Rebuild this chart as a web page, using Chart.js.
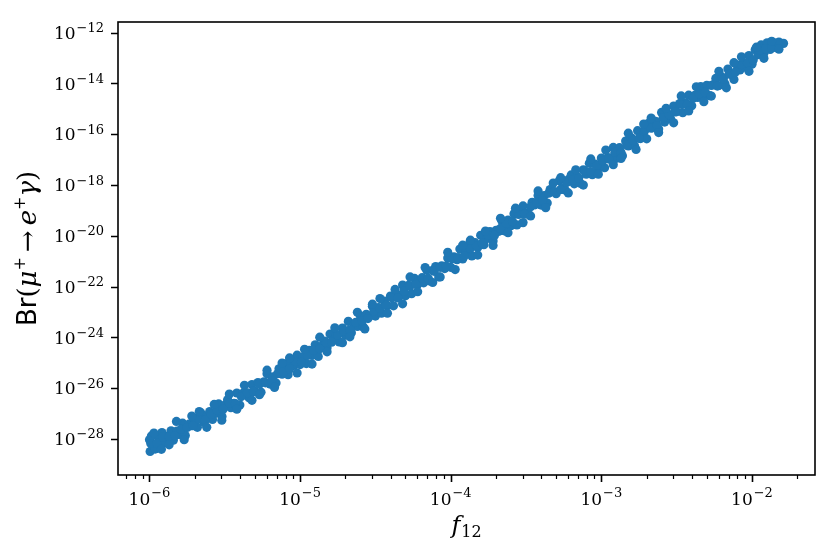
<!DOCTYPE html>
<html><head><meta charset="utf-8">
<script src="https://cdn.jsdelivr.net/npm/chart.js@4.4.0/dist/chart.umd.min.js"></script>
<style>html,body{margin:0;padding:0;background:#fff;}canvas{display:block;}</style>
</head><body>
<canvas id="c" width="838" height="558"></canvas>
<script>
// ---- data (f12, Br) ----
const f12Values = [
 1.00e-6,1.01e-6,1.03e-6,1.05e-6,1.09e-6,1.15e-6,1.21e-6,1.26e-6,1.31e-6,1.39e-6,1.44e-6,1.52e-6,
 1.58e-6,1.66e-6,1.73e-6,1.83e-6,1.90e-6,2.00e-6,2.08e-6,2.19e-6,2.30e-6,2.40e-6,
 2.51e-6,2.62e-6,2.76e-6,2.88e-6,3.03e-6,3.16e-6,3.30e-6,3.47e-6,3.64e-6,3.80e-6,
 3.98e-6,4.17e-6,4.37e-6,4.58e-6,4.79e-6,5.01e-6,5.25e-6,5.50e-6,5.75e-6,6.03e-6,
 6.31e-6,6.61e-6,6.92e-6,7.24e-6,7.59e-6,7.94e-6,8.32e-6,8.71e-6,9.12e-6,9.55e-6,
 1.00e-5,1.05e-5,1.10e-5,1.15e-5,1.20e-5,1.26e-5,1.32e-5,1.38e-5,1.45e-5,1.51e-5,
 1.58e-5,1.66e-5,1.74e-5,1.82e-5,1.91e-5,2.00e-5,2.09e-5,2.19e-5,2.29e-5,2.40e-5,
 2.51e-5,2.63e-5,2.75e-5,2.88e-5,3.02e-5,3.16e-5,3.31e-5,3.47e-5,3.63e-5,3.80e-5,
 3.98e-5,4.17e-5,4.37e-5,4.57e-5,4.79e-5,5.01e-5,5.25e-5,5.50e-5,5.75e-5,6.03e-5,
 6.31e-5,6.61e-5,6.92e-5,7.24e-5,7.59e-5,7.94e-5,8.32e-5,8.71e-5,9.12e-5,9.55e-5,
 1.00e-4,1.05e-4,1.10e-4,1.15e-4,1.20e-4,1.26e-4,1.32e-4,1.38e-4,1.45e-4,1.51e-4,
 1.58e-4,1.66e-4,1.74e-4,1.82e-4,1.91e-4,2.00e-4,2.09e-4,2.19e-4,2.29e-4,2.40e-4,
 2.51e-4,2.63e-4,2.75e-4,2.88e-4,3.02e-4,3.16e-4,3.31e-4,3.47e-4,3.63e-4,3.80e-4,
 3.98e-4,4.17e-4,4.37e-4,4.57e-4,4.79e-4,5.01e-4,5.25e-4,5.50e-4,5.75e-4,6.03e-4,
 6.31e-4,6.61e-4,6.92e-4,7.24e-4,7.59e-4,7.94e-4,8.32e-4,8.71e-4,9.12e-4,9.55e-4,
 1.00e-3,1.05e-3,1.10e-3,1.15e-3,1.20e-3,1.26e-3,1.32e-3,1.38e-3,1.45e-3,1.51e-3,
 1.58e-3,1.66e-3,1.74e-3,1.82e-3,1.91e-3,2.00e-3,2.09e-3,2.19e-3,2.29e-3,2.40e-3,
 2.51e-3,2.63e-3,2.75e-3,2.88e-3,3.02e-3,3.16e-3,3.31e-3,3.47e-3,3.63e-3,3.80e-3,
 3.98e-3,4.17e-3,4.37e-3,4.57e-3,4.79e-3,5.01e-3,5.25e-3,5.50e-3,5.75e-3,6.03e-3,
 6.31e-3,6.61e-3,6.92e-3,7.24e-3,7.59e-3,7.94e-3,8.32e-3,8.71e-3,9.12e-3,9.55e-3,
 1.00e-2,1.05e-2,1.10e-2,1.15e-2,1.20e-2,1.26e-2,1.32e-2,1.38e-2,1.45e-2,1.51e-2,1.62e-2,
 1.02e-6,1.12e-6,1.23e-6,1.35e-6,1.48e-6,1.62e-6,1.78e-6,1.95e-6,2.14e-6,2.34e-6,
 2.57e-6,2.82e-6,3.09e-6,3.39e-6,3.72e-6,4.07e-6,4.47e-6,4.90e-6,5.37e-6,5.89e-6,
 6.46e-6,7.08e-6,7.76e-6,8.51e-6,9.33e-6,1.02e-5,1.12e-5,1.23e-5,1.35e-5,1.48e-5,
 1.62e-5,1.78e-5,1.95e-5,2.14e-5,2.34e-5,2.57e-5,2.82e-5,3.09e-5,3.39e-5,3.72e-5,
 4.07e-5,4.47e-5,4.90e-5,5.37e-5,5.89e-5,6.46e-5,7.08e-5,7.76e-5,8.51e-5,9.33e-5,
 1.02e-4,1.12e-4,1.23e-4,1.35e-4,1.48e-4,1.62e-4,1.78e-4,1.95e-4,2.14e-4,2.34e-4,
 2.57e-4,2.82e-4,3.09e-4,3.39e-4,3.72e-4,4.07e-4,4.47e-4,4.90e-4,5.37e-4,5.89e-4,
 6.46e-4,7.08e-4,7.76e-4,8.51e-4,9.33e-4,1.02e-3,1.12e-3,1.23e-3,1.35e-3,1.48e-3,
 1.62e-3,1.78e-3,1.95e-3,2.14e-3,2.34e-3,2.57e-3,2.82e-3,3.09e-3,3.39e-3,3.72e-3,
 4.07e-3,4.47e-3,4.90e-3,5.37e-3,5.89e-3,6.46e-3,7.08e-3,7.76e-3,8.51e-3,9.33e-3,
 1.02e-2,1.12e-2,1.23e-2,1.35e-2,1.48e-2,
 1.07e-6,1.20e-6,1.35e-6,1.51e-6,1.70e-6,1.91e-6,2.14e-6,2.40e-6,2.69e-6,3.02e-6,
 3.39e-6,3.80e-6,4.27e-6,4.79e-6,5.37e-6,6.03e-6,6.76e-6,7.59e-6,8.51e-6,9.55e-6,
 1.07e-5,1.20e-5,1.35e-5,1.51e-5,1.70e-5,1.91e-5,2.14e-5,2.40e-5,2.69e-5,3.02e-5,
 3.39e-5,3.80e-5,4.27e-5,4.79e-5,5.37e-5,6.03e-5,6.76e-5,7.59e-5,8.51e-5,9.55e-5,
 1.07e-4,1.20e-4,1.35e-4,1.51e-4,1.70e-4,1.91e-4,2.14e-4,2.40e-4,2.69e-4,3.02e-4,
 3.39e-4,3.80e-4,4.27e-4,4.79e-4,5.37e-4,6.03e-4,6.76e-4,7.59e-4,8.51e-4,9.55e-4,
 1.07e-3,1.20e-3,1.35e-3,1.51e-3,1.70e-3,1.91e-3,2.14e-3,2.40e-3,2.69e-3,3.02e-3,
 3.39e-3,3.80e-3,4.27e-3,4.79e-3,5.37e-3,6.03e-3,6.76e-3,7.59e-3,8.51e-3,9.55e-3,
 1.07e-2,1.20e-2,1.35e-2,1.51e-2
];
const brValues = [
 9.33e-29,3.20e-29,1.30e-28,5.37e-29,3.98e-29,1.10e-28,1.78e-28,7.08e-29,1.26e-28,2.09e-28,8.91e-29,2.04e-28,
 1.51e-28,4.17e-28,1.38e-28,3.80e-28,3.31e-28,6.31e-28,2.88e-28,1.07e-27,4.47e-28,7.94e-28,
 1.20e-27,5.89e-28,1.02e-27,2.40e-27,7.59e-28,2.14e-27,3.47e-27,1.70e-27,2.51e-27,6.46e-27,
 2.19e-27,6.30e-27,5.62e-27,4.17e-27,1.38e-26,7.41e-27,1.66e-26,6.92e-27,1.78e-26,3.72e-26,
 1.45e-26,2.82e-26,1.58e-26,5.75e-26,3.55e-26,9.12e-26,3.40e-26,9.33e-26,7.94e-26,2.00e-25,
 8.51e-26,1.70e-25,9.33e-26,3.09e-25,1.95e-25,5.13e-25,1.78e-25,4.47e-25,7.08e-25,3.89e-25,
 1.35e-24,7.76e-25,1.32e-24,6.61e-25,2.34e-24,1.23e-24,4.27e-24,1.51e-24,3.31e-24,2.69e-24,
 7.08e-24,2.57e-24,8.13e-24,6.76e-24,1.70e-23,6.90e-24,1.48e-23,8.91e-24,2.69e-23,1.78e-23,
 4.27e-23,1.75e-23,4.68e-23,4.57e-23,1.15e-22,4.37e-23,1.12e-22,5.25e-23,2.09e-22,1.20e-22,
 1.82e-22,1.41e-22,4.47e-22,1.66e-22,4.37e-22,6.17e-22,2.40e-22,6.61e-22,5.13e-22,1.35e-21,
 5.75e-22,1.48e-21,1.15e-21,3.02e-21,1.23e-21,2.40e-21,4.57e-21,1.62e-21,5.37e-21,3.47e-21,
 1.05e-20,4.50e-21,7.76e-21,1.48e-20,6.31e-21,1.66e-20,1.51e-20,3.72e-20,1.55e-20,4.17e-20,
 2.51e-20,7.41e-20,2.69e-20,7.59e-20,1.51e-19,7.76e-20,6.76e-20,2.09e-19,1.66e-19,3.89e-19,
 1.62e-19,3.80e-19,1.95e-19,6.61e-19,5.50e-19,4.57e-19,1.48e-18,7.59e-19,6.31e-19,1.62e-18,
 2.51e-18,1.12e-18,2.19e-18,1.17e-18,3.98e-18,2.69e-18,7.24e-18,2.57e-18,6.61e-18,4.68e-18,
 1.15e-17,4.79e-18,1.20e-17,1.18e-17,3.02e-17,1.13e-17,2.95e-17,1.41e-17,5.37e-17,3.47e-17,
 7.24e-17,3.55e-17,1.38e-16,6.76e-17,1.15e-16,6.60e-17,2.88e-16,1.82e-16,3.24e-16,1.62e-16,
 7.24e-16,3.02e-16,6.31e-16,4.07e-16,1.29e-15,7.76e-16,1.62e-15,7.08e-16,1.74e-15,3.47e-15,
 1.32e-15,3.39e-15,2.82e-15,7.59e-15,3.02e-15,8.51e-15,3.30e-15,8.91e-15,1.58e-14,8.32e-15,
 1.82e-14,9.77e-15,3.72e-14,2.29e-14,1.45e-14,5.37e-14,3.39e-14,6.17e-14,4.37e-14,1.26e-13,
 5.75e-14,2.14e-13,1.38e-13,3.31e-13,1.55e-13,3.98e-13,2.19e-13,4.17e-13,2.57e-13,4.27e-13,3.80e-13,
 6.61e-29,6.76e-29,1.20e-28,1.23e-28,1.35e-28,2.40e-28,2.82e-28,3.31e-28,6.17e-28,5.50e-28,
 9.33e-28,1.38e-27,1.51e-27,2.63e-27,2.45e-27,4.68e-27,6.61e-27,7.41e-27,1.45e-26,1.62e-26,
 1.95e-26,3.72e-26,4.57e-26,5.75e-26,1.12e-25,1.07e-25,1.95e-25,3.09e-25,3.55e-25,6.61e-25,
 6.46e-25,1.23e-24,1.78e-24,2.00e-24,3.89e-24,4.47e-24,5.50e-24,1.10e-23,1.41e-23,1.82e-23,
 3.63e-23,3.55e-23,6.61e-23,1.05e-22,1.20e-22,2.24e-22,2.14e-22,3.98e-22,5.75e-22,6.46e-22,
 1.26e-21,1.38e-21,1.62e-21,3.16e-21,4.07e-21,5.13e-21,1.05e-20,1.04e-20,1.95e-20,3.09e-20,
 3.63e-20,6.92e-20,7.08e-20,1.41e-19,2.09e-19,2.45e-19,4.79e-19,5.50e-19,6.61e-19,1.26e-18,
 1.55e-18,1.91e-18,3.63e-18,3.39e-18,5.89e-18,9.12e-18,1.05e-17,1.95e-17,1.90e-17,3.80e-17,
 5.75e-17,6.92e-17,1.48e-16,1.74e-16,2.19e-16,4.47e-16,5.89e-16,7.59e-16,1.51e-15,1.45e-15,
 2.63e-15,3.98e-15,4.47e-15,8.32e-15,7.94e-15,1.55e-14,2.34e-14,2.82e-14,5.62e-14,6.61e-14,
 8.51e-14,2.00e-13,2.34e-13,2.57e-13,3.89e-13,
 1.70e-28,3.89e-29,5.89e-29,4.90e-28,9.33e-29,7.94e-28,1.20e-27,2.88e-28,2.29e-27,5.50e-28,
 5.89e-27,1.48e-27,1.29e-26,3.31e-27,5.50e-27,5.13e-26,1.07e-26,9.77e-26,1.55e-25,3.98e-26,
 3.39e-25,8.91e-26,1.02e-24,2.69e-25,2.40e-24,6.17e-25,1.05e-24,9.77e-24,2.14e-24,2.04e-23,
 3.39e-23,8.91e-24,7.76e-23,2.09e-23,2.40e-22,6.31e-23,5.62e-22,1.45e-22,2.40e-22,2.24e-21,
 4.68e-22,4.27e-21,6.76e-21,1.74e-21,1.55e-20,4.17e-21,4.90e-20,1.32e-20,1.23e-19,3.31e-20,
 6.03e-20,5.89e-19,1.29e-19,1.20e-18,1.95e-18,4.90e-19,3.98e-18,1.00e-18,1.07e-17,2.69e-18,
 2.40e-17,6.31e-18,1.12e-17,1.10e-16,2.51e-17,2.51e-16,4.37e-16,1.17e-16,1.05e-15,2.82e-16,
 3.24e-15,8.32e-16,7.41e-15,1.91e-15,3.20e-15,3.02e-14,6.76e-15,6.61e-14,1.12e-13,3.02e-14,
 2.69e-13,9.77e-14,4.57e-13,2.24e-13
];
const xMajorTicks = [1e-6, 1e-5, 1e-4, 1e-3, 1e-2];
const xTickExponents = ['−6', '−5', '−4', '−3', '−2'];
const xMinorTicks = [7e-7,8e-7,9e-7,
 2e-6,3e-6,4e-6,5e-6,6e-6,7e-6,8e-6,9e-6,
 2e-5,3e-5,4e-5,5e-5,6e-5,7e-5,8e-5,9e-5,
 2e-4,3e-4,4e-4,5e-4,6e-4,7e-4,8e-4,9e-4,
 2e-3,3e-3,4e-3,5e-3,6e-3,7e-3,8e-3,9e-3,
 2e-2];
const yMajorTicks = [1e-28, 1e-26, 1e-24, 1e-22, 1e-20, 1e-18, 1e-16, 1e-14, 1e-12];
const yTickExponents = ['−28', '−26', '−24', '−22', '−20', '−18', '−16', '−14', '−12'];

const SERIF = '"DejaVu Serif", serif';
const points = f12Values.map((v, i) => ({ x: v, y: brValues[i] }));

function drawPow(ctx, exp, x, baseline, align, bSize, eSize, raise) {
  ctx.font = bSize + 'px ' + SERIF; const wb = ctx.measureText('10').width;
  ctx.font = eSize + 'px ' + SERIF; const we = ctx.measureText(exp).width;
  const gap = 1, total = wb + gap + we;
  const x0 = align === 'right' ? x - total : x - total / 2;
  ctx.textAlign = 'left'; ctx.textBaseline = 'alphabetic'; ctx.fillStyle = '#000';
  ctx.font = bSize + 'px ' + SERIF; ctx.fillText('10', x0, baseline);
  ctx.font = eSize + 'px ' + SERIF; ctx.fillText(exp, x0 + wb + gap, baseline - raise);
}

function drawSegments(ctx, segs, startX, baseline) {
  let x = startX;
  segs.forEach(s => {
    ctx.font = s.f;
    x += (s.padL || 0);
    ctx.fillText(s.t, x, baseline + (s.dy || 0));
    x += ctx.measureText(s.t).width + (s.padR || 0);
  });
}
function segWidth(ctx, segs) {
  let w = 0;
  segs.forEach(s => { ctx.font = s.f; w += ctx.measureText(s.t).width + (s.padL || 0) + (s.padR || 0); });
  return w;
}

const mplAxes = {
  id: 'mplAxes',
  afterDraw(chart) {
    const { ctx, chartArea: a, scales: { x, y } } = chart;
    ctx.save();
    ctx.strokeStyle = '#000';
    ctx.lineWidth = 1.6;
    ctx.beginPath();
    xMajorTicks.forEach(v => { const p = Math.round(x.getPixelForValue(v)) + 0.5; ctx.moveTo(p, a.bottom); ctx.lineTo(p, a.bottom + 7); });
    yMajorTicks.forEach(v => { const p = Math.round(y.getPixelForValue(v)) + 0.5; ctx.moveTo(a.left, p); ctx.lineTo(a.left - 7, p); });
    ctx.stroke();
    ctx.lineWidth = 1.2;
    ctx.beginPath();
    xMinorTicks.forEach(v => { const p = Math.round(x.getPixelForValue(v)) + 0.5; if (p < a.left || p > a.right) return; ctx.moveTo(p, a.bottom); ctx.lineTo(p, a.bottom + 4); });
    ctx.stroke();
    ctx.lineWidth = 1.6;
    ctx.strokeRect(a.left, a.top, a.right - a.left, a.bottom - a.top);
    yMajorTicks.forEach((v, i) => drawPow(ctx, yTickExponents[i], 104, y.getPixelForValue(v) + 6.2, 'right', 17, 13, 6.7));
    xMajorTicks.forEach((v, i) => drawPow(ctx, xTickExponents[i], x.getPixelForValue(v), 505, 'center', 17, 13, 8));
    ctx.fillStyle = '#000'; ctx.textAlign = 'left'; ctx.textBaseline = 'alphabetic';
    const xt = [
      { t: 'f', f: 'italic 24px ' + SERIF, padR: 1 },
      { t: '12', f: '16px ' + SERIF, dy: 4 }
    ];
    const cx = (a.left + a.right) / 2;
    drawSegments(ctx, xt, cx - segWidth(ctx, xt) / 2, 533);
    const yt = [
      { t: 'Br', f: '26px "DejaVu Sans", sans-serif' },
      { t: '(', f: '26px ' + SERIF },
      { t: 'μ', f: 'italic 26px ' + SERIF },
      { t: '+', f: '16px ' + SERIF, dy: -11 },
      { t: '→', f: '26px ' + SERIF, padL: 5, padR: 5 },
      { t: 'e', f: 'italic 26px ' + SERIF },
      { t: '+', f: '16px ' + SERIF, dy: -11 },
      { t: 'γ', f: 'italic 26px ' + SERIF },
      { t: ')', f: '26px ' + SERIF }
    ];
    const cy = (a.top + a.bottom) / 2;
    ctx.translate(36, cy);
    ctx.rotate(-Math.PI / 2);
    drawSegments(ctx, yt, -segWidth(ctx, yt) / 2, 0);
    ctx.restore();
  }
};

new Chart(document.getElementById('c'), {
  type: 'scatter',
  data: { datasets: [{
    data: points,
    backgroundColor: '#1f77b4',
    borderWidth: 0,
    pointRadius: 4.6,
    pointHoverRadius: 4.6
  }] },
  options: {
    responsive: false,
    animation: false,
    devicePixelRatio: 1,
    layout: { padding: { left: 0, right: 23, top: 22, bottom: 0 } },
    plugins: { legend: { display: false }, tooltip: { enabled: false } },
    events: [],
    scales: {
      x: {
        type: 'logarithmic', min: 6.18e-7, max: 2.62e-2,
        afterBuildTicks: s => { s.ticks = xMajorTicks.map(v => ({ value: v })); },
        ticks: { display: false },
        grid: { display: false },
        border: { display: false },
        afterFit: s => { s.height = 83; }
      },
      y: {
        type: 'logarithmic', min: 3.80e-30, max: 2.64e-12,
        afterBuildTicks: s => { s.ticks = yMajorTicks.map(v => ({ value: v })); },
        ticks: { display: false },
        grid: { display: false },
        border: { display: false },
        afterFit: s => { s.width = 118; }
      }
    }
  },
  plugins: [mplAxes]
});
</script>
</body></html>
